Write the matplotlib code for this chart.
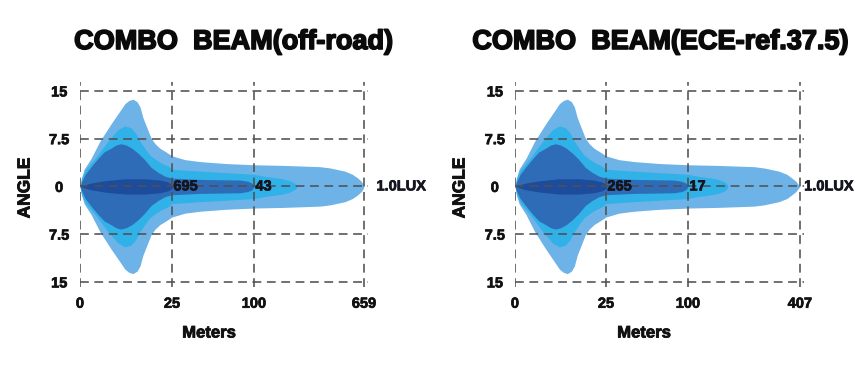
import numpy as np
import matplotlib
matplotlib.use("Agg")
import matplotlib.pyplot as plt
import matplotlib.patheffects as pe

plt.rcParams['font.family'] = ['Liberation Sans', 'DejaVu Sans']

# ---------------- data ----------------
titles = ["COMBO  BEAM(off-road)", "COMBO  BEAM(ECE-ref.37.5)"]
y_ticks = [15, 7.5, 0, -7.5, -15]
y_tick_labels = ["15", "7.5", "0", "7.5", "15"]
x_ticks_left = [0, 25, 100, 659]
x_ticks_right = [0, 25, 100, 407]
lux_labels_left = [("695", 25), ("43", 100), ("1.0LUX", 659)]
lux_labels_right = [("265", 25), ("17", 100), ("1.0LUX", 407)]

# iso-lux contours: distance (m) and half-angle (deg)
near_outer_x = [0, 0.3, 1.1, 3.0, 5.4, 8.4, 10.9, 12.2, 13.3, 14.4, 15.5, 16.3, 17.1,
                18.2, 19.3, 20.4, 21.7, 23.4, 25, 36.9, 50.6, 73.5, 100]
near_outer_y = [0, 1.1, 2.7, 4.4, 7.1, 9.8, 11.9, 13.0, 13.5, 13.7, 13.3, 12.5, 10.8,
                9.2, 7.6, 6.7, 6.0, 5.4, 4.8, 4.2, 3.9, 3.6, 3.4]
far_outer_x_left = [250, 435, 486, 562, 600, 628, 645, 654, 659]
far_outer_y_left = [3.3, 3.1, 2.9, 2.4, 1.9, 1.3, 0.8, 0.4, 0]
far_outer_x_right = [181, 281, 308, 349, 371, 385, 396, 401, 407]
far_outer_y_right = [3.3, 3.1, 2.9, 2.4, 1.9, 1.3, 0.8, 0.4, 0]

near_mid_x = [0, 0.5, 1.6, 4.1, 7.6, 10.3, 12.2, 13.9, 15.2, 16.3, 17.7, 19.0, 20.4,
              22.0, 23.9, 25, 50.6, 100]
near_mid_y = [0, 1.4, 2.7, 4.4, 7.1, 8.9, 9.5, 9.2, 8.3, 7.1, 5.9, 4.9, 4.3,
              3.7, 3.2, 2.7, 2.4, 1.9]
far_mid_x_left = [151, 200, 247, 280, 300, 314, 318]
far_mid_y_left = [1.6, 1.4, 1.2, 0.9, 0.6, 0.3, 0]
far_mid_x_right = [126, 152, 176, 193, 203, 207, 210]
far_mid_y_right = [1.6, 1.4, 1.2, 0.9, 0.6, 0.3, 0]

inner_x = [0, 0.5, 1.4, 3.3, 4.9, 6.5, 8.4, 9.8, 11.1, 12.5, 14.1, 15.8, 17.4, 19.3,
           21.2, 23.1, 25, 50.6, 87, 94.5, 98.2, 100]
inner_y = [0, 0.8, 1.9, 3.3, 4.4, 5.4, 6.0, 6.5, 6.7, 6.5, 6.0, 5.2, 4.3, 3.0,
           2.2, 1.6, 1.3, 1.1, 1.0, 0.8, 0.5, 0]

core_x = [0, 2.7, 6.8, 12.2, 17.7, 21.7, 23.9, 25, 25.5]
core_y = [0, 0.5, 0.9, 1.2, 1.2, 1.0, 0.7, 0.3, 0]

# ---------------- style / layout ----------------
C_OUTER = '#6db3e8'
C_MID = '#30b1e8'
C_INNER = '#2f6cb7'
C_CORE = '#1d4c9c'
GRID = '#505050'
W, H = 866, 382


def make_scale(ticks, pos):
    t = np.asarray(ticks, float)
    p = np.asarray(pos, float)
    s1 = (p[-1] - p[-2]) / (t[-1] - t[-2])
    s0 = (p[1] - p[0]) / (t[1] - t[0])

    def fwd(x):
        x = np.asarray(x, float)
        y = np.interp(x, t, p)
        y = np.where(x > t[-1], p[-1] + (x - t[-1]) * s1, y)
        y = np.where(x < t[0], p[0] + (x - t[0]) * s0, y)
        return y

    def inv(y):
        y = np.asarray(y, float)
        x = np.interp(y, p, t)
        x = np.where(y > p[-1], t[-1] + (y - p[-1]) / s1, x)
        x = np.where(y < p[0], t[0] + (y - p[0]) / s0, x)
        return x
    return fwd, inv


def heavy(w, c='#111111'):
    return [pe.withStroke(linewidth=w, foreground=c)]


fig = plt.figure(figsize=(W / 100, H / 100), dpi=100)

panels = [
    dict(rect=[80 / W, 95 / H, 288 / W, 205 / H], ticks=x_ticks_left,
         pix=[80, 172, 254, 364], xmax_pix=368,
         far_outer=(far_outer_x_left, far_outer_y_left),
         far_mid=(far_mid_x_left, far_mid_y_left),
         labels=lux_labels_left, lux_off=9, title_x=234, meters_x=209, angle_x=25,
         ypad=15),
    dict(rect=[515 / W, 95 / H, 289 / W, 205 / H], ticks=x_ticks_right,
         pix=[515, 606, 688, 800], xmax_pix=804,
         far_outer=(far_outer_x_right, far_outer_y_right),
         far_mid=(far_mid_x_right, far_mid_y_right),
         labels=lux_labels_right, lux_off=3, title_x=661, meters_x=644, angle_x=460,
         ypad=14.5),
]

for i, pdef in enumerate(panels):
    ax = fig.add_axes(pdef['rect'])
    pix = pdef['pix']
    pos = [(p - pix[0]) / (pix[1] - pix[0]) for p in pix]
    fwd, inv = make_scale(pdef['ticks'], pos)
    ax.set_xscale('function', functions=(fwd, inv))
    t = pdef['ticks']
    slope = (t[-1] - t[-2]) / (pix[-1] - pix[-2])
    ax.set_xlim(0, t[-1] + (pdef['xmax_pix'] - pix[-1]) * slope)
    ax.set_ylim(-15.8, 16.4)

    ox = np.array(near_outer_x + pdef['far_outer'][0], float)
    oy = np.array(near_outer_y + pdef['far_outer'][1], float)
    mx = np.array(near_mid_x + pdef['far_mid'][0], float)
    my = np.array(near_mid_y + pdef['far_mid'][1], float)
    ix = np.array(inner_x, float)
    iy = np.array(inner_y, float)
    cx = np.array(core_x, float)
    cy = np.array(core_y, float)
    for xs, ys, c in [(ox, oy, C_OUTER), (mx, my, C_MID), (ix, iy, C_INNER), (cx, cy, C_CORE)]:
        ax.fill_between(xs, -ys, ys, color=c, lw=0, zorder=1)

    ax.set_xticks(t)
    ax.set_xticklabels([str(v) for v in t])
    ax.set_yticks(y_ticks)
    ax.set_yticklabels(y_tick_labels)
    ax.tick_params(length=0, labelsize=10.5)
    ax.tick_params(axis='x', pad=7)
    ax.tick_params(axis='y', pad=pdef['ypad'])
    for lab in ax.get_yticklabels() + ax.get_xticklabels():
        lab.set_fontweight('bold')
        lab.set_color('#111111')
        lab.set_path_effects(heavy(0.5))
    for lab in ax.get_yticklabels():
        lab.set_horizontalalignment('center')
    ax.grid(True, color=GRID, lw=1.15, linestyle=(0, (5.5, 3.5)), zorder=2)
    ax.set_axisbelow(False)
    for s in ax.spines.values():
        s.set_visible(False)
    ax.patch.set_alpha(0)

    for k, (txt, xv) in enumerate(pdef['labels']):
        off = 1 if k < 2 else pdef['lux_off']
        ax.annotate(txt, xy=(xv, 0), xytext=(off, 0), textcoords='offset points',
                    ha='left', va='center', fontsize=10.5, fontweight='bold',
                    color='#15151f', clip_on=False, zorder=5,
                    path_effects=heavy(0.5, '#15151f'))

    fig.text(pdef['title_x'] / W, 1 - 42 / H, titles[i], ha='center', va='center',
             fontsize=19.5, fontweight='bold', color='#0a0a0a',
             path_effects=heavy(1.2, '#0a0a0a'))
    fig.text(pdef['meters_x'] / W, 1 - 333 / H, 'Meters', ha='center', va='center',
             fontsize=12, fontweight='bold', color='#111111', path_effects=heavy(0.6))
    fig.text(pdef['angle_x'] / W, 1 - 188 / H, 'ANGLE', ha='center', va='center',
             rotation=90, fontsize=12.5, fontweight='bold', color='#111111',
             path_effects=heavy(0.6))

fig.savefig('out.png', dpi=100, facecolor='white')
